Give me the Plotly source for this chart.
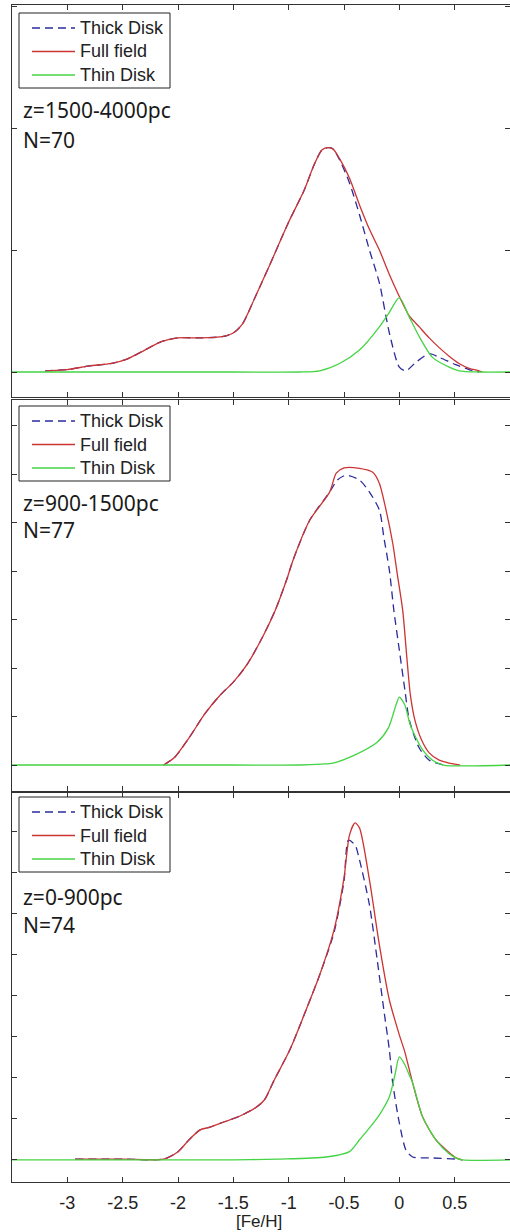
import plotly.graph_objects as go

# ---------------- data ----------------
# Panel 1: z=1500-4000pc
fe_full1 = [-3.2, -3.0, -2.8, -2.6, -2.45, -2.3, -2.15, -2.0, -1.8, -1.6, -1.5, -1.42, -1.3, -1.17, -1.0,
            -0.86, -0.77, -0.7, -0.65, -0.6, -0.54, -0.45, -0.36, -0.27, -0.18, -0.09, 0.0, 0.09, 0.18,
            0.27, 0.36, 0.45, 0.54, 0.63, 0.72, 0.75]
full1 = [0.01, 0.02, 0.05, 0.07, 0.11, 0.18, 0.25, 0.28, 0.28, 0.29, 0.32, 0.39, 0.62, 0.88, 1.23,
         1.49, 1.70, 1.82, 1.84, 1.83, 1.75, 1.59, 1.37, 1.17, 1.00, 0.80, 0.62, 0.46, 0.37,
         0.28, 0.20, 0.13, 0.07, 0.03, 0.01, 0.0]
fe_thick1 = [-3.2, -3.0, -2.8, -2.6, -2.45, -2.3, -2.15, -2.0, -1.8, -1.6, -1.5, -1.42, -1.3, -1.17, -1.0,
             -0.86, -0.77, -0.7, -0.65, -0.6, -0.54, -0.45, -0.36, -0.27, -0.18, -0.09, 0.0, 0.06, 0.15,
             0.27, 0.36, 0.51, 0.63, 0.72]
thick1 = [0.01, 0.02, 0.05, 0.07, 0.11, 0.18, 0.25, 0.28, 0.28, 0.29, 0.32, 0.39, 0.62, 0.88, 1.23,
          1.49, 1.70, 1.82, 1.84, 1.83, 1.74, 1.55, 1.29, 1.00, 0.73, 0.32, 0.04, 0.01, 0.08,
          0.15, 0.12, 0.06, 0.02, 0.0]
fe_thin1 = [-3.5, -1.5, -0.9, -0.72, -0.54, -0.36, -0.18, -0.09, 0.0, 0.09, 0.18, 0.3, 0.45, 0.54, 0.72, 1.0]
thin1 = [0, 0, 0, 0.01, 0.07, 0.18, 0.37, 0.49, 0.61, 0.45, 0.29, 0.12, 0.04, 0.01, 0, 0]

# Panel 2: z=900-1500pc
fe_full2 = [-2.13, -2.03, -1.9, -1.76, -1.62, -1.5, -1.38, -1.25, -1.12, -1.02, -0.96, -0.81, -0.63,
            -0.57, -0.5, -0.36, -0.24, -0.18, -0.12, -0.06, -0.02, 0.03, 0.07, 0.1, 0.14, 0.2, 0.27,
            0.36, 0.45, 0.55]
full2 = [0, 0.16, 0.56, 1.05, 1.44, 1.71, 2.06, 2.58, 3.20, 3.81, 4.23, 5.05, 5.63,
         6.02, 6.13, 6.12, 6.04, 5.81, 5.26, 4.58, 3.96, 3.20, 2.16, 1.44, 0.93, 0.52, 0.25,
         0.10, 0.04, 0]
fe_thick2 = [-2.13, -2.03, -1.9, -1.76, -1.62, -1.5, -1.38, -1.25, -1.12, -1.02, -0.96, -0.81, -0.63,
             -0.56, -0.48, -0.36, -0.27, -0.18, -0.14, -0.09, -0.05, 0.0, 0.05, 0.09, 0.18, 0.27, 0.4]
thick2 = [0, 0.16, 0.56, 1.05, 1.44, 1.71, 2.06, 2.58, 3.20, 3.81, 4.23, 5.05, 5.63,
          5.88, 5.98, 5.88, 5.63, 5.26, 4.70, 4.02, 3.20, 2.37, 1.55, 0.93, 0.35, 0.10, 0]
fe_thin2 = [-3.5, -1.5, -0.9, -0.7, -0.6, -0.4, -0.2, -0.1, -0.03, 0.0, 0.05, 0.1, 0.2, 0.3, 0.4, 1.0]
thin2 = [0, 0, 0, 0.02, 0.04, 0.21, 0.47, 0.76, 1.24, 1.40, 1.24, 0.82, 0.35, 0.10, 0, 0]

# Panel 3: z=0-900pc
fe_full3 = [-2.93, -2.5, -2.13, -2.0, -1.9, -1.8, -1.71, -1.58, -1.44, -1.3, -1.22, -1.13, -0.99, -0.86,
            -0.72, -0.59, -0.5, -0.45, -0.4, -0.36, -0.27, -0.18, -0.09, 0.0, 0.05, 0.12, 0.21, 0.33,
            0.51, 0.57]
full3 = [0.02, 0.02, 0.02, 0.20, 0.49, 0.73, 0.80, 0.93, 1.07, 1.27, 1.46, 1.95, 2.68, 3.54,
         4.51, 5.61, 6.88, 7.93, 8.22, 8.10, 6.83, 5.24, 3.90, 3.05, 2.63, 1.88, 1.05, 0.49,
         0.05, 0]
fe_thick3 = [-2.93, -2.5, -2.13, -2.0, -1.9, -1.8, -1.71, -1.58, -1.44, -1.3, -1.22, -1.13, -0.99, -0.86,
             -0.72, -0.59, -0.5, -0.46, -0.4, -0.36, -0.27, -0.2, -0.14, -0.09, -0.06, 0.0, 0.06, 0.12,
             0.27, 0.51, 0.57]
thick3 = [0.02, 0.02, 0.02, 0.20, 0.49, 0.73, 0.80, 0.93, 1.07, 1.27, 1.46, 1.95, 2.68, 3.54,
          4.51, 5.55, 6.80, 7.80, 7.68, 7.32, 6.22, 4.88, 3.66, 2.68, 1.88, 0.90, 0.24, 0.07,
          0.05, 0.02, 0]
fe_thin3 = [-3.5, -1.5, -1.1, -0.66, -0.45, -0.36, -0.27, -0.18, -0.09, -0.04, 0.0, 0.05, 0.09, 0.12,
            0.21, 0.33, 0.45, 0.51, 0.57, 1.0]
thin3 = [0, 0, 0.02, 0.07, 0.20, 0.49, 0.78, 1.10, 1.54, 2.07, 2.51, 2.32, 2.07, 1.88,
         1.05, 0.49, 0.15, 0.05, 0, 0]

series_names = ["Thick Disk", "Full field", "Thin Disk"]
panel_labels = ["z=1500-4000pc", "z=900-1500pc", "z=0-900pc"]
panel_counts = ["N=70", "N=77", "N=74"]
x_tickvals = [-3, -2.5, -2, -1.5, -1, -0.5, 0, 0.5, 1]
x_ticktext = ["-3", "-2.5", "-2", "-1.5", "-1", "-0.5", "0", "0.5", "1"]
x_title = "[Fe/H]"

# ---------------- styling / layout ----------------
BLUE = "#2b2b9c"
RED = "#cc3333"
GREEN = "#44d444"
AXC = "#333333"
TXT = "#222222"
SANS = "Liberation Sans, Arial"

W, H = 510, 1232
ML, MR, MT, MB = 12, 0, 5, 50
plot_h = H - MT - MB
plot_w = W - ML - MR


def py(pix):  # pixel row -> paper y
    return (H - MB - pix) / plot_h


def px(pix):  # pixel column -> paper x
    return (pix - ML) / plot_w


panels = [
    dict(fe=(fe_thick1, fe_full1, fe_thin1), y=(thick1, full1, thin1),
         dom=(py(397), py(5)), yr=[-0.205, 3.01], leg_top=13, ztxt=110, ntxt=140),
    dict(fe=(fe_thick2, fe_full2, fe_thin2), y=(thick2, full2, thin2),
         dom=(py(791), py(400)), yr=[-0.536, 7.53], leg_top=406, ztxt=503, ntxt=530),
    dict(fe=(fe_thick3, fe_full3, fe_thin3), y=(thick3, full3, thin3),
         dom=(py(1182), py(793)), yr=[-0.54, 8.95], leg_top=797, ztxt=897, ntxt=925),
]

styles = [dict(color=BLUE, width=1.3, dash="8px,5px"),
          dict(color=RED, width=1.3),
          dict(color=GREEN, width=1.3)]

fig = go.Figure()
layout = dict(
    width=W, height=H, margin=dict(l=ML, r=MR, t=MT, b=MB),
    paper_bgcolor="white", plot_bgcolor="white", showlegend=False,
    font=dict(family=SANS, size=18, color=TXT),
)
annotations = []
shapes = []

for i, p in enumerate(panels):
    k = "" if i == 0 else str(i + 1)
    for j in range(3):
        fig.add_trace(go.Scatter(
            x=p["fe"][j], y=p["y"][j], mode="lines", name=series_names[j],
            line=dict(shape="spline", smoothing=0.7, **styles[j]),
            xaxis="x" + k, yaxis="y" + k, hoverinfo="skip"))
    axcommon = dict(showline=True, linecolor=AXC, linewidth=1, mirror="ticks",
                    ticks="inside", ticklen=5, tickcolor=AXC, showgrid=False, zeroline=False)
    layout["xaxis" + k] = dict(domain=[0, 1], range=[-3.5, 1.0], anchor="y" + k,
                               tickvals=x_tickvals, ticktext=x_ticktext,
                               showticklabels=(i == 2), ticklabelstandoff=4,
                               tickfont=dict(family=SANS, size=18, color=TXT),
                               **axcommon)
    layout["yaxis" + k] = dict(domain=list(p["dom"]), range=p["yr"], anchor="x" + k,
                               tick0=0, dtick=1, showticklabels=False, **axcommon)

    # legend box (drawn like the MATLAB legend)
    T = p["leg_top"]
    shapes.append(dict(type="rect", xref="paper", yref="paper",
                       x0=px(19), x1=px(170), y0=py(T + 75), y1=py(T),
                       line=dict(color=TXT, width=1), fillcolor="white", layer="above"))
    for j in range(3):
        yc = T + 15 + 23.5 * j
        shapes.append(dict(type="line", xref="paper", yref="paper",
                           x0=px(32), x1=px(75), y0=py(yc), y1=py(yc),
                           line=styles[j], layer="above"))
        annotations.append(dict(text=series_names[j], x=px(78), y=py(yc), xref="paper", yref="paper",
                                xanchor="left", yanchor="middle", showarrow=False,
                                font=dict(family=SANS, size=18, color=TXT)))

    annotations.append(dict(text=panel_labels[i], x=px(21), y=py(p["ztxt"]), xref="paper", yref="paper",
                            xanchor="left", yanchor="middle", showarrow=False,
                            font=dict(family="Noto Sans", size=21, color="#1a1a1a")))
    annotations.append(dict(text=panel_counts[i], x=px(21), y=py(p["ntxt"]), xref="paper", yref="paper",
                            xanchor="left", yanchor="middle", showarrow=False,
                            font=dict(family="Noto Sans", size=21, color="#1a1a1a")))

# x-axis title under the bottom panel
annotations.append(dict(text=x_title, x=px(259), y=py(1221), xref="paper", yref="paper",
                        xanchor="center", yanchor="middle", showarrow=False,
                        font=dict(family=SANS, size=17, color=TXT)))

layout["annotations"] = annotations
layout["shapes"] = shapes
fig.update_layout(**layout)
fig.write_html("out.html")
